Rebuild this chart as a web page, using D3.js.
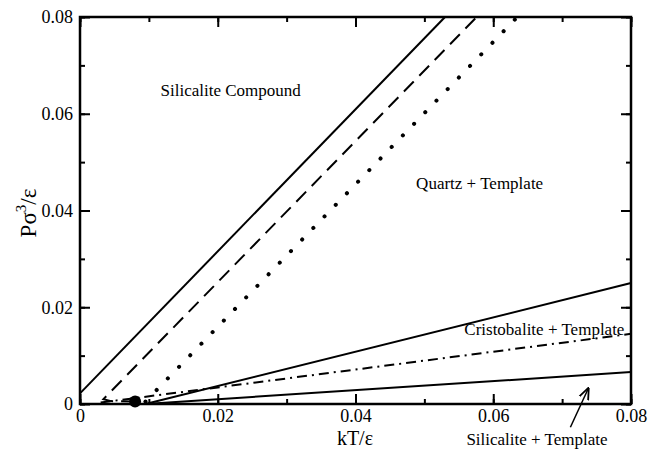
<!DOCTYPE html>
<html>
<head>
<meta charset="utf-8">
<script src="https://cdn.jsdelivr.net/npm/d3@7"></script>
<style>
    body { margin: 0; background: white; }
    text { font-family: "Liberation Serif", "Times New Roman", serif; }
</style>
</head>
<body>
<div id="chart"></div>
<script>
// Phase diagram, pressure vs temperature (reduced units)
const xTicks = [0, 0.02, 0.04, 0.06, 0.08]
const yTicks = [0, 0.02, 0.04, 0.06, 0.08]
const xTickLabels = ['0', '0.02', '0.04', '0.06', '0.08']
const yTickLabels = ['0', '0.02', '0.04', '0.06', '0.08']

// boundary lines, [kT/eps, P sigma^3/eps]
const compoundQuartzLine = [[0, 0.0022], [0.053, 0.08]]
const dashedLine = [[0.008, 0.0005], [0.0045, 0.0006], [0.0034, 0.001], [0.0576, 0.08]]
const dottedLine = [[0.0095, 0.0005], [0.0635, 0.08]]
const quartzCristobaliteLine = [[0.0095, 0.0], [0.08, 0.025]]
const dashDotLine = [[0.003, 0.0003], [0.08, 0.0145]]
const silicaliteLine = [[0.0095, 0.0], [0.08, 0.0066]]
const triplePoint = [[0.008, 0.0005]]

const regionLabels = ['Silicalite Compound', 'Quartz + Template', 'Cristobalite + Template', 'Silicalite + Template']
const regionLabelPos = [[0.0117, 0.0637], [0.0488, 0.0445], [0.0558, 0.0143], [0.0561, -0.0085]]

function getTranslateString(x, y) {
    return 'translate(' + x + ', ' + y + ')'
}

class PhaseDiagram {
    constructor(width, height, divElementName) {
        this.width = width
        this.height = height
        this.divElementName = divElementName
        this.initialize()
    }

    initialize = () => {
        this.left = 80
        this.right = 631
        this.top = 17
        this.bottom = 404
        this.svg = d3.select(this.divElementName).append('svg').attr('width', this.width).attr('height', this.height)
        this.xScale = d3.scaleLinear().domain([0, 0.08]).range([this.left, this.right])
        this.yScale = d3.scaleLinear().domain([0, 0.08]).range([this.bottom, this.top])
        this.drawLines()
        this.drawFrame()
        this.drawLabels()
    }

    drawPath = (data, dash, cap, width) => {
        let line = d3.line().x(d => this.xScale(d[0])).y(d => this.yScale(d[1]))
        this.svg.append('path').datum(data).attr('d', line)
            .attr('fill', 'none').attr('stroke', 'black').attr('stroke-width', width || 2)
            .attr('stroke-dasharray', dash).attr('stroke-linecap', cap || 'butt')
    }

    drawLines = () => {
        this.drawPath(compoundQuartzLine, null)
        this.drawPath(dashedLine, '14,8')
        this.drawPath(dottedLine, '0.1,16', 'round', 4)
        this.drawPath(quartzCristobaliteLine, null)
        this.drawPath(dashDotLine, '10,5,2,5')
        this.drawPath(silicaliteLine, null)
        this.svg.selectAll('.point').data(triplePoint).enter().append('circle')
            .attr('cx', d => this.xScale(d[0])).attr('cy', d => this.yScale(d[1])).attr('r', 6).attr('fill', 'black')
    }

    drawFrame = () => {
        let minor = d3.range(0, 0.0801, 0.01)
        let xAxisBottom = d3.axisBottom(this.xScale).tickValues(xTicks).tickSize(-10).tickPadding(5).tickFormat((d, i) => xTickLabels[i])
        let xAxisTop = d3.axisTop(this.xScale).tickValues(xTicks).tickSize(-10).tickFormat('')
        let yAxisLeft = d3.axisLeft(this.yScale).tickValues(yTicks).tickSize(-10).tickPadding(7).tickFormat((d, i) => yTickLabels[i])
        let yAxisRight = d3.axisRight(this.yScale).tickValues(yTicks).tickSize(-10).tickFormat('')
        let minorB = d3.axisBottom(this.xScale).tickValues(minor).tickSize(-5).tickFormat('')
        let minorT = d3.axisTop(this.xScale).tickValues(minor).tickSize(-5).tickFormat('')
        let minorL = d3.axisLeft(this.yScale).tickValues(minor).tickSize(-5).tickFormat('')
        let minorR = d3.axisRight(this.yScale).tickValues(minor).tickSize(-5).tickFormat('')
        let axes = [
            [xAxisBottom, 0, this.bottom], [xAxisTop, 0, this.top], [yAxisLeft, this.left, 0], [yAxisRight, this.right, 0],
            [minorB, 0, this.bottom], [minorT, 0, this.top], [minorL, this.left, 0], [minorR, this.right, 0]
        ]
        for (let [axis, x, y] of axes) {
            let g = this.svg.append('g').attr('transform', getTranslateString(x, y)).call(axis)
            g.attr('font-family', null)
            g.select('.domain').remove()
            g.selectAll('line').attr('stroke', 'black').attr('stroke-width', 2)
            g.selectAll('text').attr('font-size', 18).attr('fill', 'black')
                .style('font-family', '"Liberation Serif", serif')
        }
        this.svg.append('rect').attr('x', this.left).attr('y', this.top)
            .attr('width', this.right - this.left).attr('height', this.bottom - this.top)
            .attr('fill', 'none').attr('stroke', 'black').attr('stroke-width', 2.5)
    }

    drawLabels = () => {
        this.svg.append('text').attr('x', 355).attr('y', 445)
            .attr('text-anchor', 'middle').attr('font-size', 20).text('kT/ε')
        let yl = this.svg.append('text').attr('transform', getTranslateString(36, 213) + ' rotate(-90)')
            .attr('text-anchor', 'middle').attr('font-size', 23)
        yl.append('tspan').text('Pσ')
        yl.append('tspan').attr('font-size', 15).attr('dy', -10).text('3')
        yl.append('tspan').attr('dy', 10).text('/ε')

        for (let i = 0; i < regionLabels.length; i++) {
            this.svg.append('text').attr('x', this.xScale(regionLabelPos[i][0])).attr('y', this.yScale(regionLabelPos[i][1]))
                .attr('font-size', 17).text(regionLabels[i])
        }
        // arrow pointing into the silicalite + template region
        this.svg.append('defs').append('marker').attr('id', 'head').attr('viewBox', '0 0 10 10')
            .attr('refX', 9).attr('refY', 5).attr('markerWidth', 8).attr('markerHeight', 8).attr('orient', 'auto')
            .append('path').attr('d', 'M0,1 L10,5 L0,9').attr('fill', 'none').attr('stroke', 'black').attr('stroke-width', 1.5)
        this.svg.append('line')
            .attr('x1', this.xScale(0.0712)).attr('y1', this.yScale(-0.0048))
            .attr('x2', this.xScale(0.0738)).attr('y2', this.yScale(0.0032))
            .attr('stroke', 'black').attr('stroke-width', 1.5).attr('marker-end', 'url(#head)')
    }
}

new PhaseDiagram(650, 450, '#chart')
</script>
</body>
</html>
